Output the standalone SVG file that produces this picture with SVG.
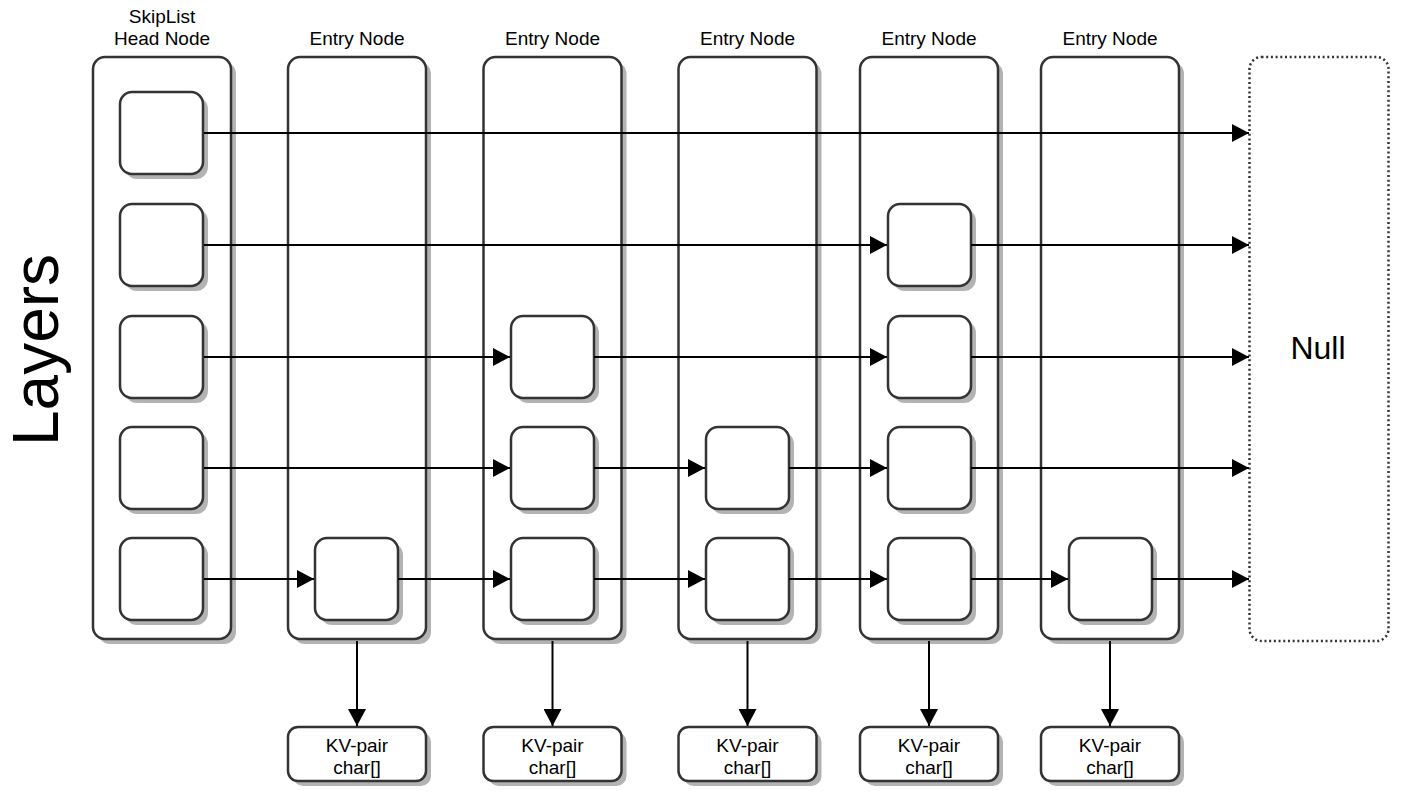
<svg xmlns="http://www.w3.org/2000/svg" width="1406" height="796" viewBox="0 0 1406 796">
<style>
text{font-family:"Liberation Sans",Arial,sans-serif;fill:#000;text-anchor:middle}
.t{font-size:19px}
.box{fill:#fff;stroke:#333;stroke-width:2.5}
.sh{fill:#b3b3b3;stroke:none}
.ln{stroke:#000;stroke-width:2;fill:none;marker-end:url(#ah)}
.null{fill:#fff;stroke:#333;stroke-width:2.5;stroke-dasharray:2 2.7}
</style>
<defs>
<marker id="ah" viewBox="0 0 17 18" refX="17" refY="9" markerWidth="17" markerHeight="18" markerUnits="userSpaceOnUse" orient="auto">
<path d="M0,0 L17,9 L0,18 z" fill="#000"/>
</marker>
<g id="inner"><rect class="sh" x="5" y="5" width="83" height="82" rx="12"/><rect class="box" x="0" y="0" width="83" height="82" rx="12"/></g>
<g id="outer"><rect class="sh" x="5" y="5" width="138" height="582" rx="12"/><rect class="box" x="0" y="0" width="138" height="582" rx="12"/></g>
<g id="kv"><rect class="sh" x="5" y="5" width="138" height="54" rx="10"/><rect class="box" x="0" y="0" width="138" height="54" rx="10"/></g>
</defs>
<rect width="1406" height="796" fill="#fff"/>

<text transform="translate(58,350) rotate(-90)" style="font-size:64px">Layers</text>

<g id="head">
<use href="#outer" x="93" y="57"/>
<text class="t" x="162" y="23">SkipList</text>
<text class="t" x="162" y="45">Head Node</text>
<use href="#inner" x="120" y="92"/>
<use href="#inner" x="120" y="204"/>
<use href="#inner" x="120" y="316"/>
<use href="#inner" x="120" y="427"/>
<use href="#inner" x="120" y="538"/>
</g>
<g id="entry1">
<use href="#outer" x="288" y="57"/>
<text class="t" x="357" y="45">Entry Node</text>
<use href="#inner" x="315" y="538"/>
</g>
<g id="entry2">
<use href="#outer" x="483.5" y="57"/>
<text class="t" x="552.5" y="45">Entry Node</text>
<use href="#inner" x="511" y="316"/>
<use href="#inner" x="511" y="427"/>
<use href="#inner" x="511" y="538"/>
</g>
<g id="entry3">
<use href="#outer" x="678.5" y="57"/>
<text class="t" x="747.5" y="45">Entry Node</text>
<use href="#inner" x="706" y="427"/>
<use href="#inner" x="706" y="538"/>
</g>
<g id="entry4">
<use href="#outer" x="860" y="57"/>
<text class="t" x="929" y="45">Entry Node</text>
<use href="#inner" x="888" y="204"/>
<use href="#inner" x="888" y="316"/>
<use href="#inner" x="888" y="427"/>
<use href="#inner" x="888" y="538"/>
</g>
<g id="entry5">
<use href="#outer" x="1041" y="57"/>
<text class="t" x="1110" y="45">Entry Node</text>
<use href="#inner" x="1069" y="538"/>
</g>
<g id="null">
<rect class="null" x="1249.5" y="57" width="139" height="584" rx="12"/>
<text x="1318" y="359" style="font-size:32px">Null</text>
</g>
<g id="kv1"><use href="#kv" x="288" y="727"/><text class="t" x="357" y="752">KV-pair</text><text class="t" x="357" y="774">char[]</text></g>
<g id="kv2"><use href="#kv" x="483.5" y="727"/><text class="t" x="552.5" y="752">KV-pair</text><text class="t" x="552.5" y="774">char[]</text></g>
<g id="kv3"><use href="#kv" x="678.5" y="727"/><text class="t" x="747.5" y="752">KV-pair</text><text class="t" x="747.5" y="774">char[]</text></g>
<g id="kv4"><use href="#kv" x="860" y="727"/><text class="t" x="929" y="752">KV-pair</text><text class="t" x="929" y="774">char[]</text></g>
<g id="kv5"><use href="#kv" x="1041" y="727"/><text class="t" x="1110" y="752">KV-pair</text><text class="t" x="1110" y="774">char[]</text></g>

<g id="connectors">
<path class="ln" d="M204,133 H1249"/>
<path class="ln" d="M204,245 H887"/>
<path class="ln" d="M971,245 H1249"/>
<path class="ln" d="M204,357 H510"/>
<path class="ln" d="M594,357 H887"/>
<path class="ln" d="M971,357 H1249"/>
<path class="ln" d="M204,468 H510"/>
<path class="ln" d="M594,468 H705"/>
<path class="ln" d="M789,468 H887"/>
<path class="ln" d="M971,468 H1249"/>
<path class="ln" d="M204,579 H314"/>
<path class="ln" d="M398,579 H510"/>
<path class="ln" d="M594,579 H705"/>
<path class="ln" d="M789,579 H887"/>
<path class="ln" d="M971,579 H1068"/>
<path class="ln" d="M1152,579 H1249"/>
<path class="ln" d="M357,641 V726"/>
<path class="ln" d="M552.5,641 V726"/>
<path class="ln" d="M747.5,641 V726"/>
<path class="ln" d="M929,641 V726"/>
<path class="ln" d="M1110,641 V726"/>
</g>
</svg>
